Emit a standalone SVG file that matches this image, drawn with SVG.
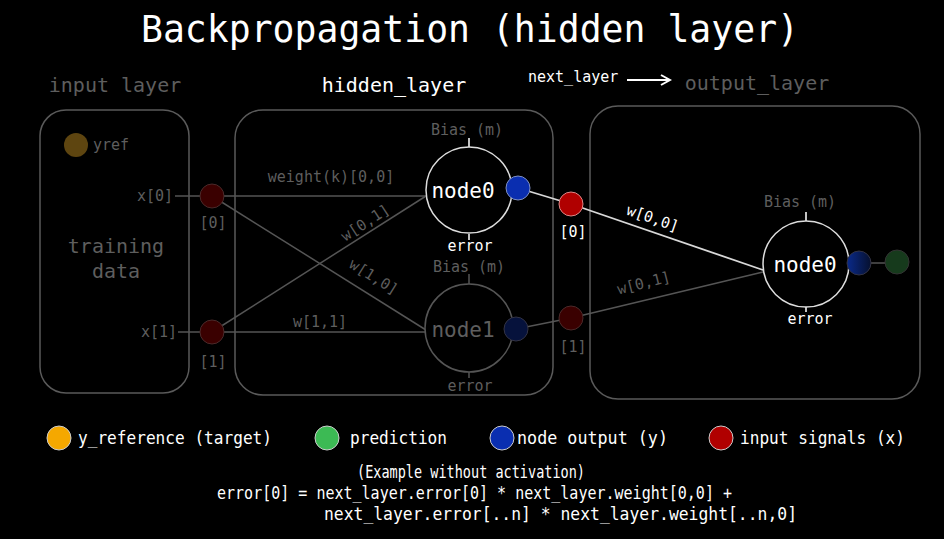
<svg xmlns="http://www.w3.org/2000/svg" width="944" height="539" viewBox="0 0 944 539">
<defs>
<style>
text{font-family:"DejaVu Sans Mono","Liberation Mono",monospace;}
.t{fill:#fff;}
.g{fill:#5e5e5e;}
.box{fill:none;stroke:#5a5a5a;stroke-width:1.5;}
.ln{stroke:#555;stroke-width:1.5;fill:none;}
.lw{stroke:#d8d8d8;stroke-width:1.8;fill:none;}
.nw{fill:#000;stroke:#ddd;stroke-width:1.5;}
.ng{fill:#000;stroke:#555;stroke-width:1.5;}
</style>
<linearGradient id="bg" x1="0" y1="0" x2="1" y2="0"><stop offset="0" stop-color="#0a2a8a"/><stop offset="1" stop-color="#06102e"/></linearGradient>
<marker id="arr" markerWidth="12" markerHeight="12" refX="10" refY="6" orient="auto" markerUnits="userSpaceOnUse"><path d="M1,1 L10,6 L1,11" fill="none" stroke="#fff" stroke-width="2"/></marker>
</defs>
<rect width="944" height="539" fill="#000"/>
<text x="141" y="42" font-size="37" class="t" textLength="658" lengthAdjust="spacingAndGlyphs">Backpropagation (hidden layer)</text>

<g id="input_layer">
<text x="115" y="92" text-anchor="middle" font-size="20" class="g">input layer</text>
<rect x="40" y="110" width="149" height="283" rx="26" class="box"/>
<circle cx="76" cy="145" r="12" fill="#5e4510"/>
<text x="93" y="150" font-size="15" class="g">yref</text>
<text x="116" y="253" text-anchor="middle" font-size="20" class="g">training</text>
<text x="116" y="278" text-anchor="middle" font-size="20" class="g">data</text>
<text x="173" y="201" text-anchor="end" font-size="15" class="g">x[0]</text>
<text x="177" y="337" text-anchor="end" font-size="15" class="g">x[1]</text>
</g>

<g id="hidden_layer">
<text x="394" y="92" text-anchor="middle" font-size="20" class="t">hidden_layer</text>
<rect x="235" y="110" width="318" height="285" rx="28" class="box"/>
</g>

<g id="output_layer">
<text x="757" y="90" text-anchor="middle" font-size="20" class="g">output_layer</text>
<rect x="590" y="106" width="330" height="293" rx="28" class="box"/>
</g>

<g id="next_layer_label">
<text x="528" y="82" font-size="15" class="t">next_layer</text>
<line x1="627" y1="80" x2="670" y2="80" stroke="#fff" stroke-width="2" marker-end="url(#arr)"/>
</g>

<g id="connectors">
<line x1="175" y1="196" x2="200" y2="196" class="ln"/>
<line x1="178" y1="332" x2="200" y2="332" class="ln"/>
<line x1="212" y1="196" x2="426" y2="196" class="ln"/>
<line x1="212" y1="196" x2="426" y2="330" class="ln"/>
<line x1="212" y1="332" x2="426" y2="196" class="ln"/>
<line x1="212" y1="332" x2="426" y2="332" class="ln"/>
<line x1="518" y1="188" x2="571" y2="204" class="lw"/>
<line x1="571" y1="204" x2="763" y2="270" class="lw"/>
<line x1="516" y1="329" x2="571" y2="318" class="ln"/>
<line x1="571" y1="318" x2="763" y2="272" class="ln"/>
<line x1="859" y1="263" x2="897" y2="263" class="ln"/>
<line x1="469" y1="138" x2="469" y2="147" class="lw" stroke-width="1.2"/>
<line x1="469" y1="234" x2="469" y2="240" class="lw" stroke-width="1.2"/>
<line x1="469" y1="274" x2="469" y2="284" class="ln" stroke-width="1.2"/>
<line x1="469" y1="372" x2="469" y2="378" class="ln" stroke-width="1.2"/>
<line x1="806" y1="212" x2="806" y2="221" class="lw" stroke-width="1.2"/>
<line x1="806" y1="307" x2="806" y2="312" class="lw" stroke-width="1.2"/>
<text x="331" y="182" text-anchor="middle" font-size="15" class="g">weight(k)[0,0]</text>
<text x="368" y="227" text-anchor="middle" font-size="15" class="g" transform="rotate(-33 368 227)">w[0,1]</text>
<text x="371" y="281" text-anchor="middle" font-size="15" class="g" transform="rotate(32 371 281)">w[1,0]</text>
<text x="320" y="327" text-anchor="middle" font-size="15" class="g">w[1,1]</text>
<text x="651" y="223" text-anchor="middle" font-size="15" class="t" transform="rotate(19 651 223)">w[0,0]</text>
<text x="645" y="288" text-anchor="middle" font-size="15" class="g" transform="rotate(-14 645 288)">w[0,1]</text>
</g>

<g id="x0">
<circle cx="212" cy="196" r="12" fill="#3a0000" stroke="#4a2a2a" stroke-width="1"/>
<text x="213" y="228" text-anchor="middle" font-size="15" class="g">[0]</text>
</g>
<g id="x1">
<circle cx="212" cy="332" r="12" fill="#3a0000" stroke="#4a2a2a" stroke-width="1"/>
<text x="213" y="367" text-anchor="middle" font-size="15" class="g">[1]</text>
</g>

<g id="hidden_node0">
<text x="467" y="135" text-anchor="middle" font-size="15" class="g">Bias (m)</text>
<circle cx="469" cy="190" r="43" class="nw"/>
<text x="463" y="198" text-anchor="middle" font-size="21" class="t">node0</text>
<text x="470" y="251" text-anchor="middle" font-size="15" class="t">error</text>
<circle cx="518" cy="188" r="12" fill="#0a2eb0" stroke="#8090c0" stroke-width="1"/>
</g>

<g id="hidden_node1">
<text x="469" y="272" text-anchor="middle" font-size="15" class="g">Bias (m)</text>
<circle cx="469" cy="328" r="44" class="ng"/>
<text x="463" y="337" text-anchor="middle" font-size="21" class="g">node1</text>
<text x="470" y="391" text-anchor="middle" font-size="15" class="g">error</text>
<circle cx="516" cy="329" r="12" fill="#06123c" stroke="#334" stroke-width="1"/>
</g>

<g id="h0">
<circle cx="571" cy="204" r="12" fill="#b00000" stroke="#d88" stroke-width="1"/>
<text x="573" y="237" text-anchor="middle" font-size="15" class="t">[0]</text>
</g>
<g id="h1">
<circle cx="571" cy="318" r="12" fill="#3a0000" stroke="#4a2a2a" stroke-width="1"/>
<text x="573" y="352" text-anchor="middle" font-size="15" class="g">[1]</text>
</g>

<g id="output_node0">
<text x="800" y="207" text-anchor="middle" font-size="15" class="g">Bias (m)</text>
<circle cx="806" cy="264" r="43" class="nw"/>
<text x="805" y="272" text-anchor="middle" font-size="21" class="t">node0</text>
<text x="810" y="324" text-anchor="middle" font-size="15" class="t">error</text>
<circle cx="859" cy="263" r="12" fill="url(#bg)" stroke="#334" stroke-width="1"/>
<circle cx="897" cy="262" r="12" fill="#163a1c" stroke="#333" stroke-width="1"/>
</g>

<g id="legend">
<circle cx="59" cy="438" r="12" fill="#f5a800" stroke="#ccc" stroke-width="1"/>
<text x="78" y="444" font-size="18" class="t" textLength="194" lengthAdjust="spacingAndGlyphs">y_reference (target)</text>
<circle cx="327" cy="438" r="12" fill="#3cba54" stroke="#ccc" stroke-width="1"/>
<text x="350" y="444" font-size="18" class="t" textLength="97" lengthAdjust="spacingAndGlyphs">prediction</text>
<circle cx="502" cy="438" r="12" fill="#0a2eb0" stroke="#ccc" stroke-width="1"/>
<text x="517" y="444" font-size="18" class="t" textLength="151" lengthAdjust="spacingAndGlyphs">node output (y)</text>
<circle cx="721" cy="438" r="12" fill="#b00000" stroke="#ccc" stroke-width="1"/>
<text x="740" y="444" font-size="18" class="t" textLength="165" lengthAdjust="spacingAndGlyphs">input signals (x)</text>
</g>

<g id="formula">
<text x="357" y="478" font-size="17" class="t" textLength="228" lengthAdjust="spacingAndGlyphs">(Example without activation)</text>
<text x="217" y="499" font-size="17" class="t" textLength="515" lengthAdjust="spacingAndGlyphs">error[0] = next_layer.error[0] * next_layer.weight[0,0] +</text>
<text x="324" y="520" font-size="17" class="t" textLength="473" lengthAdjust="spacingAndGlyphs">next_layer.error[..n] * next_layer.weight[..n,0]</text>
</g>
</svg>
